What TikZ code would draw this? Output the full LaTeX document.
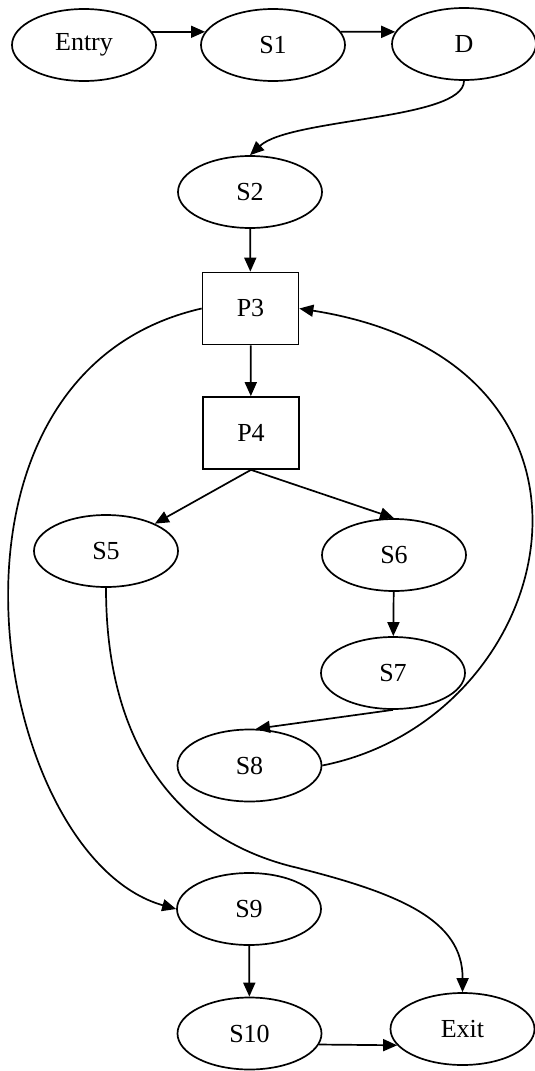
\documentclass[tikz,border=0pt]{standalone}
\usepackage{fontspec}
\setmainfont{Liberation Serif}
\usetikzlibrary{shapes.geometric,arrows.meta}

\tikzset{
  state/.style={draw, ellipse, line width=1.7pt, minimum width=144pt, minimum height=72pt,
    inner sep=0pt, font=\fontsize{26}{31}\selectfont},
  proc/.style={draw, rectangle, line width=1.7pt, minimum width=96pt, minimum height=72pt,
    inner sep=0pt, font=\fontsize{26}{31}\selectfont},
  flow/.style={line width=1.7pt, -{Triangle[length=14pt,width=12pt]}}
}

\begin{document}
\begin{tikzpicture}[x=1pt, y=-1pt]
\useasboundingbox (0,0) rectangle (535,1071);

% nodes
\node[state] (Entry) at (84,45) {Entry};
\node[state] (S1)    at (273,45) {S1};
\node[state] (D)     at (464,44) {D};
\node[state] (S2)    at (250,192) {S2};
\node[proc]  (P3)    at (250.5,308.5) {P3};
\node[proc]  (P4)    at (251,433) {P4};
\node[state] (S5)    at (106,551) {S5};
\node[state] (S6)    at (394,555) {S6};
\node[state] (S7)    at (393,673) {S7};
\node[state] (S8)    at (249.5,765.5) {S8};
\node[state] (S9)    at (249,909) {S9};
\node[state] (S10)   at (249.5,1033.5) {S10};
\node[state] (Exit)  at (462.5,1029) {Exit};

% straight connectors
\draw[flow] (Entry.11) -- (S1.169);
\draw[flow] (S1.11) -- (D.170);
\draw[flow] (S2) -- (P3);
\draw[flow] (P3) -- (P4);
\draw[flow] (P4.south) -- (S5);
\draw[flow] (P4.south) -- (S6.north);
\draw[flow] (S6) -- (S7);
\draw[flow] (S7.south) -- (S8.80);
\draw[flow] (S9) -- (S10);
\draw[flow] (S10.-9.5) -- (Exit.194.2);

% curved connectors
\draw[flow] (D.south) .. controls (464,120) and (290,118) .. (S2.north);
\draw[flow] (S8.east) .. controls (562,718) and (644,363) .. (P3.east);
\draw[flow] (P3.west) .. controls (-90,375) and (-9,857) .. (S9.west);
\draw[flow] (S5.south) .. controls (106,760) and (190,840) .. (290,866)
                       .. controls (400,893) and (463,920) .. (Exit.north);
\end{tikzpicture}
\end{document}
